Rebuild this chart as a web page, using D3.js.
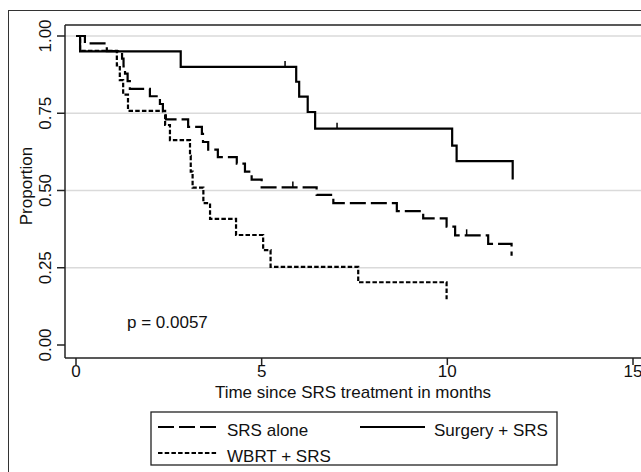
<!DOCTYPE html>
<html>
<head>
<meta charset="utf-8">
<script src="https://cdn.jsdelivr.net/npm/d3@7"></script>
<style>
  body { margin: 0; background: #fff; }
  text { font-family: "Liberation Sans", Arial, sans-serif; fill: #111; }
</style>
</head>
<body>
<svg id="chart" width="641" height="472"></svg>
<script>
// Kaplan-Meier steps (time in months, proportion after the event)
const srsAloneTimes = [0, 0.24, 0.83, 1.24, 1.28, 1.32, 1.39, 1.45, 1.99, 2.26, 2.34, 2.42, 3.02, 3.39, 3.42, 3.56, 3.82, 4.33, 4.55, 4.73, 5.0, 6.48, 6.93, 8.64, 9.35, 9.98, 10.21, 11.1, 11.73];
const srsAloneSurv = [1.0, 0.976, 0.951, 0.927, 0.902, 0.878, 0.854, 0.829, 0.805, 0.78, 0.756, 0.73, 0.706, 0.683, 0.657, 0.632, 0.608, 0.587, 0.561, 0.535, 0.51, 0.486, 0.459, 0.433, 0.41, 0.383, 0.355, 0.327, 0.289];
const srsAloneCensor = [5.84, 10.52];

const surgeryTimes = [0, 0.11, 2.82, 5.93, 6.01, 6.24, 6.44, 10.13, 10.25, 11.76];
const surgerySurv = [1.0, 0.95, 0.9, 0.852, 0.804, 0.754, 0.7, 0.645, 0.595, 0.536];
const surgeryCensor = [5.63, 7.03];

const wbrtTimes = [0, 0.11, 1.1, 1.18, 1.27, 1.4, 2.4, 2.53, 3.07, 3.09, 3.14, 3.43, 3.61, 4.31, 5.04, 5.24, 7.6, 9.98];
const wbrtSurv = [1.0, 0.952, 0.905, 0.857, 0.81, 0.758, 0.712, 0.663, 0.612, 0.561, 0.509, 0.459, 0.408, 0.356, 0.307, 0.253, 0.203, 0.148];
const wbrtCensor = [];

const xTicks = [0, 5, 10, 15];
const yTicks = [0, 0.25, 0.5, 0.75, 1];
const yTickLabels = ["0.00", "0.25", "0.50", "0.75", "1.00"];
const pValueText = "p = 0.0057";

const svg = d3.select("#chart");
const x = d3.scaleLinear().domain([0, 15]).range([76, 633]);
const y = d3.scaleLinear().domain([0, 1]).range([345, 36]);

const plotLeft = 65;
const plotTop = 25;
const plotBottom = 358;
const plotRight = 650;

// outer frame
svg.append("rect").attr("x", 8.5).attr("y", 10.5).attr("width", 660).attr("height", 490)
  .attr("fill", "none").attr("stroke", "#333").attr("stroke-width", 1);

// grid lines
svg.selectAll(".grid").data(yTicks.filter((d) => d > 0)).enter().append("line")
  .attr("x1", plotLeft).attr("x2", plotRight)
  .attr("y1", (d) => y(d)).attr("y2", (d) => y(d))
  .attr("stroke", "#dadada").attr("stroke-width", 1.5);

// plot region top border
svg.append("line").attr("x1", plotLeft).attr("x2", plotRight).attr("y1", plotTop).attr("y2", plotTop)
  .attr("stroke", "#222").attr("stroke-width", 1.5);

// y axis
svg.append("line").attr("x1", plotLeft).attr("x2", plotLeft).attr("y1", plotTop).attr("y2", plotBottom)
  .attr("stroke", "#222").attr("stroke-width", 1.5);
svg.selectAll(".ytick").data(yTicks).enter().append("line")
  .attr("x1", 57).attr("x2", plotLeft)
  .attr("y1", (d) => y(d)).attr("y2", (d) => y(d))
  .attr("stroke", "#222").attr("stroke-width", 1.5);
svg.selectAll(".ylab").data(yTicks).enter().append("text")
  .attr("transform", (d) => `translate(51,${y(d)}) rotate(-90)`)
  .attr("text-anchor", "middle").attr("font-size", 17)
  .text((d, i) => yTickLabels[i]);
svg.append("text").attr("transform", "translate(32,186) rotate(-90)")
  .attr("text-anchor", "middle").attr("font-size", 17).text("Proportion");

// x axis
svg.append("line").attr("x1", plotLeft).attr("x2", plotRight).attr("y1", plotBottom).attr("y2", plotBottom)
  .attr("stroke", "#222").attr("stroke-width", 1.5);
svg.selectAll(".xtick").data(xTicks).enter().append("line")
  .attr("x1", (d) => x(d)).attr("x2", (d) => x(d))
  .attr("y1", plotBottom).attr("y2", plotBottom + 7)
  .attr("stroke", "#222").attr("stroke-width", 1.5);
svg.selectAll(".xlab").data(xTicks).enter().append("text")
  .attr("x", (d) => x(d)).attr("y", 377)
  .attr("text-anchor", "middle").attr("font-size", 17).text((d) => d);
svg.append("text").attr("x", 353).attr("y", 398).attr("text-anchor", "middle")
  .attr("font-size", 17).text("Time since SRS treatment in months");

// p value
svg.append("text").attr("x", 127).attr("y", 328).attr("font-size", 17).text(pValueText);

function drawCurve(times, surv, censor, dash) {
  const pts = times.map((t, i) => [t, surv[i]]);
  const line = d3.line().x((d) => x(d[0])).y((d) => y(d[1])).curve(d3.curveStepAfter);
  svg.append("path").attr("d", line(pts)).attr("fill", "none")
    .attr("stroke", "#000").attr("stroke-width", 2.2)
    .attr("stroke-dasharray", dash);
  censor.forEach((c) => {
    const idx = d3.bisectRight(times, c) - 1;
    const s = surv[idx];
    svg.append("line").attr("x1", x(c)).attr("x2", x(c))
      .attr("y1", y(s)).attr("y2", y(s) - 6)
      .attr("stroke", "#000").attr("stroke-width", 1.5);
  });
}

const longDash = "16,5";
const shortDash = "4.5,2.2";

drawCurve(surgeryTimes, surgerySurv, surgeryCensor, null);
drawCurve(srsAloneTimes, srsAloneSurv, srsAloneCensor, longDash);
drawCurve(wbrtTimes, wbrtSurv, wbrtCensor, shortDash);

// legend
const legend = svg.append("g");
legend.append("rect").attr("x", 151).attr("y", 412).attr("width", 406).attr("height", 53)
  .attr("fill", "#fff").attr("stroke", "#222").attr("stroke-width", 1.3);
const legendItems = [
  { label: "SRS alone", dash: longDash, lx: 158, ty: 427 },
  { label: "Surgery + SRS", dash: null, lx: 360, ty: 427 },
  { label: "WBRT + SRS", dash: shortDash, lx: 158, ty: 453 },
];
legendItems.forEach((item) => {
  const len = item.dash ? 60 : 65;
  legend.append("line").attr("x1", item.lx).attr("x2", item.lx + len)
    .attr("y1", item.ty).attr("y2", item.ty)
    .attr("stroke", "#000").attr("stroke-width", 2.2).attr("stroke-dasharray", item.dash);
  legend.append("text").attr("x", item.lx + len + 9).attr("y", item.ty + 8.5)
    .attr("font-size", 17).text(item.label);
});
</script>
</body>
</html>
